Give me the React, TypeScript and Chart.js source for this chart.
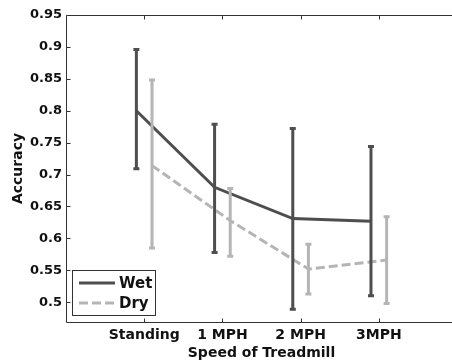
import React, { useEffect, useRef } from "react";
import { Chart, registerables } from "chart.js";

Chart.register(...registerables);

const categories = ["Standing", "1 MPH", "2 MPH", "3MPH"];
const seriesNames = ["Wet", "Dry"];
const wetMean = [0.8, 0.68, 0.631, 0.627];
const wetUpper = [0.896, 0.779, 0.772, 0.744];
const wetLower = [0.709, 0.578, 0.489, 0.51];
const dryMean = [0.714, 0.628, 0.552, 0.566];
const dryUpper = [0.848, 0.678, 0.591, 0.634];
const dryLower = [0.585, 0.572, 0.513, 0.498];
const yTicks = [0.5, 0.55, 0.6, 0.65, 0.7, 0.75, 0.8, 0.85, 0.9, 0.95];

const WET = "#4e4e4e";
const DRY = "#b5b5b5";
const AXIS = "#333333";
const FONT = "'DejaVu Sans', sans-serif";
const OFFSET = 0.1;

const series = [
  { name: seriesNames[0], mean: wetMean, upper: wetUpper, lower: wetLower, color: WET, dash: [] as number[], off: -OFFSET },
  { name: seriesNames[1], mean: dryMean, upper: dryUpper, lower: dryLower, color: DRY, dash: [9, 4], off: OFFSET },
];

const errorBarPlugin = {
  id: "errorBars",
  afterDatasetsDraw(chart: any) {
    const { ctx } = chart;
    const xs = chart.scales.x;
    const ys = chart.scales.y;
    ctx.save();
    series.forEach((s) => {
      ctx.strokeStyle = s.color;
      ctx.lineWidth = 3;
      ctx.setLineDash([]);
      ctx.lineCap = "butt";
      s.mean.forEach((_, i) => {
        const x = xs.getPixelForValue(i + 1 + s.off);
        const yu = ys.getPixelForValue(s.upper[i]);
        const yl = ys.getPixelForValue(s.lower[i]);
        ctx.beginPath();
        ctx.moveTo(x, yu);
        ctx.lineTo(x, yl);
        ctx.stroke();
        ctx.beginPath();
        ctx.moveTo(x - 3, yu);
        ctx.lineTo(x + 3, yu);
        ctx.moveTo(x - 3, yl);
        ctx.lineTo(x + 3, yl);
        ctx.stroke();
      });
    });
    ctx.restore();
  },
};

const framePlugin = {
  id: "frame",
  afterDraw(chart: any) {
    const { ctx, chartArea } = chart;
    const { left, right, top, bottom } = chartArea;
    const xs = chart.scales.x;
    const ys = chart.scales.y;
    ctx.save();
    ctx.strokeStyle = AXIS;
    ctx.lineWidth = 1;
    ctx.setLineDash([]);
    const L = Math.round(left) + 0.5;
    const T = Math.round(top) + 0.5;
    const B = Math.round(bottom) + 0.5;
    const R = Math.round(right) + 0.5;
    ctx.beginPath();
    ctx.moveTo(L, T);
    ctx.lineTo(R, T);
    ctx.lineTo(R, B);
    ctx.lineTo(L, B);
    ctx.closePath();
    ctx.stroke();
    ctx.beginPath();
    yTicks.forEach((v) => {
      const y = Math.round(ys.getPixelForValue(v)) + 0.5;
      ctx.moveTo(L, y);
      ctx.lineTo(L + 4, y);
      ctx.moveTo(R, y);
      ctx.lineTo(R - 4, y);
    });
    categories.forEach((_, i) => {
      const x = Math.round(xs.getPixelForValue(i + 1)) + 0.5;
      ctx.moveTo(x, B);
      ctx.lineTo(x, B - 4);
      ctx.moveTo(x, T);
      ctx.lineTo(x, T + 4);
    });
    ctx.stroke();

    // legend
    const bx = 72.5, by = 270.5, bw = 83, bh = 45;
    ctx.fillStyle = "#ffffff";
    ctx.fillRect(bx, by, bw, bh);
    ctx.strokeStyle = AXIS;
    ctx.strokeRect(bx, by, bw, bh);
    series.forEach((s, i) => {
      const y = 283 + i * 20;
      ctx.strokeStyle = s.color;
      ctx.lineWidth = 3;
      ctx.setLineDash(s.dash);
      ctx.beginPath();
      ctx.moveTo(79, y);
      ctx.lineTo(115, y);
      ctx.stroke();
      ctx.setLineDash([]);
      ctx.fillStyle = "#111111";
      ctx.font = `bold 15px ${FONT}`;
      ctx.textBaseline = "middle";
      ctx.textAlign = "left";
      ctx.fillText(s.name, 119, y + 1);
    });
    ctx.restore();
  },
};

export default function App() {
  const ref = useRef<HTMLCanvasElement>(null);
  useEffect(() => {
    document.body.style.margin = "0";
    const canvas = ref.current!;
    const chart = new Chart(canvas, {
      type: "line",
      data: {
        datasets: series.map((s) => ({
          label: s.name,
          data: s.mean.map((v, i) => ({ x: i + 1 + s.off, y: v })),
          borderColor: s.color,
          backgroundColor: s.color,
          borderWidth: 3,
          borderDash: s.dash,
          pointRadius: 0,
          tension: 0,
          fill: false,
        })),
      },
      options: {
        animation: false,
        responsive: false,
        maintainAspectRatio: false,
        layout: { padding: { left: 0, top: 15, right: 13, bottom: 0 } },
        plugins: { legend: { display: false }, tooltip: { enabled: false } },
        scales: {
          x: {
            type: "linear",
            min: 0,
            max: 5,
            grid: { display: false, drawTicks: false },
            border: { display: false },
            afterBuildTicks: (scale: any) => {
              scale.ticks = categories.map((_, i) => ({ value: i + 1 }));
            },
            afterFit: (scale: any) => {
              scale.height = 40;
            },
            ticks: {
              autoSkip: false,
              maxRotation: 0,
              padding: 5,
              color: "#111111",
              font: { family: FONT, size: 14, weight: "bold" },
              callback: (v: any) => categories[Math.round(v) - 1] ?? "",
            },
            title: {
              display: true,
              text: "Speed of Treadmill",
              color: "#111111",
              padding: { top: 0, bottom: 0 },
              font: { family: FONT, size: 14, weight: "bold" },
            },
          },
          y: {
            min: 0.469,
            max: 0.95,
            grid: { display: false, drawTicks: false },
            border: { display: false },
            afterBuildTicks: (scale: any) => {
              scale.ticks = yTicks.map((v) => ({ value: v }));
            },
            afterFit: (scale: any) => {
              scale.width = 66;
            },
            ticks: {
              padding: 4,
              color: "#111111",
              font: { family: FONT, size: 13, weight: "bold" },
              callback: (v: any) => String(Number(Number(v).toFixed(2))),
            },
            title: {
              display: true,
              text: "Accuracy",
              color: "#111111",
              padding: { top: 10, bottom: 0 },
              font: { family: FONT, size: 14, weight: "bold" },
            },
          },
        },
      },
      plugins: [errorBarPlugin, framePlugin],
    } as any);
    return () => chart.destroy();
  }, []);
  return (
    <div style={{ position: "absolute", left: 0, top: 0, width: 452, height: 362, overflow: "hidden", background: "#fff" }}>
      <canvas ref={ref} width={470} height={362} style={{ width: 470, height: 362, display: "block" }} />
    </div>
  );
}
